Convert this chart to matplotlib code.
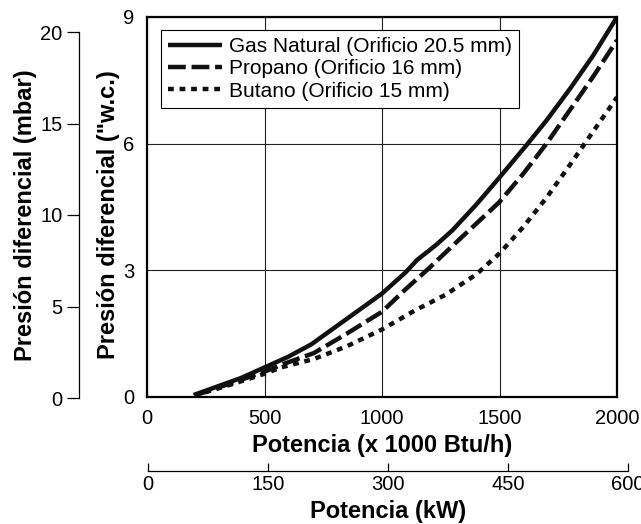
import matplotlib.pyplot as plt

plt.rcParams['font.family'] = ['Liberation Sans', 'DejaVu Sans']

# Potencia (x 1000 Btu/h) and pressure ("w.c.)
gas_x = [200, 300, 400, 500, 600, 700, 800, 900, 1000, 1100, 1150, 1230,
         1300, 1400, 1500, 1620, 1700, 1800, 1900, 2000]
gas_y = [0.05, 0.25, 0.45, 0.7, 0.95, 1.25, 1.65, 2.05, 2.45, 2.95, 3.25, 3.6,
         3.95, 4.55, 5.2, 6.0, 6.55, 7.3, 8.1, 9.0]

prop_x = [200, 360, 500, 570, 710, 850, 1000, 1100, 1200, 1300, 1400, 1500,
          1600, 1700, 1800, 1900, 2000]
prop_y = [0.03, 0.33, 0.6, 0.76, 1.04, 1.5, 2.02, 2.55, 3.05, 3.58, 4.1, 4.62,
          5.28, 6.0, 6.8, 7.6, 8.45]

but_x = [200, 360, 500, 570, 710, 850, 1000, 1140, 1270, 1400, 1500, 1600,
         1700, 1800, 1900, 2000]
but_y = [0.03, 0.3, 0.55, 0.7, 0.9, 1.2, 1.6, 2.05, 2.42, 2.9, 3.4, 4.02,
         4.72, 5.5, 6.3, 7.1]

x_ticks = [0, 500, 1000, 1500, 2000]
y_ticks = [0, 3, 6, 9]
mbar_ticks = [0, 5, 10, 15, 20]
kw_ticks = [0, 150, 300, 450, 600]

fig = plt.figure(figsize=(6.41, 5.24), dpi=100)
W, H = 641, 524

# main axes
ax = fig.add_axes([147 / W, 1 - 397 / H, (617 - 147) / W, (397 - 17) / H])
ax.plot(gas_x, gas_y, color='#111111', lw=3.2, solid_capstyle='butt',
        label='Gas Natural (Orificio 20.5 mm)')
ax.plot(prop_x, prop_y, color='#111111', lw=3.2, dashes=(4.0, 1.3),
        dash_capstyle='butt', label='Propano (Orificio 16 mm)')
ax.plot(but_x, but_y, color='#111111', lw=3.2, dashes=(1.3, 1.3),
        dash_capstyle='butt', label='Butano (Orificio 15 mm)')
ax.set_xlim(0, 2000)
ax.set_ylim(0, 9)
ax.set_xticks(x_ticks)
ax.set_yticks(y_ticks)
ax.grid(True, color='#222222', lw=0.8)
ax.tick_params(length=0, labelsize=14.5)
ax.tick_params(axis='x', pad=9)
ax.tick_params(axis='y', pad=9)
for s in ax.spines.values():
    s.set_linewidth(1.6)
ax.set_xlabel('Potencia (x 1000 Btu/h)', fontsize=17, fontweight='bold', labelpad=4)
ax.set_ylabel('Presión diferencial ("w.c.)', fontsize=17, fontweight='bold')
ax.yaxis.set_label_coords(-0.058, 0.48)
leg = ax.legend(loc='upper left', fontsize=15, frameon=True, fancybox=False,
                framealpha=1, edgecolor='black', handlelength=2.6,
                handletextpad=0.3, labelspacing=0.15, borderpad=0.35,
                borderaxespad=0, bbox_to_anchor=(14 / 470, 367 / 380))
leg.get_frame().set_linewidth(0.8)

# left mbar axis
ax2 = fig.add_axes([79 / W, 1 - 398 / H, 0.001, (398 - 32) / H])
ax2.set_ylim(0, 20)
ax2.set_yticks(mbar_ticks)
ax2.set_xticks([])
for k in ['top', 'right', 'bottom']:
    ax2.spines[k].set_visible(False)
ax2.spines['left'].set_linewidth(0.9)
ax2.patch.set_visible(False)
ax2.tick_params(axis='y', length=9, width=0.9, labelsize=14.5, pad=3)
ax2.set_ylabel('Presión diferencial (mbar)', fontsize=17, fontweight='bold', labelpad=2)

# bottom kW axis
ax3 = fig.add_axes([148 / W, 1 - 471 / H, (628 - 148) / W, 0.001])
ax3.set_xlim(0, 600)
ax3.set_xticks(kw_ticks)
ax3.set_yticks([])
for k in ['top', 'right', 'left']:
    ax3.spines[k].set_visible(False)
ax3.spines['bottom'].set_linewidth(0.9)
ax3.patch.set_visible(False)
ax3.tick_params(axis='x', direction='in', length=6, width=0.9, labelsize=14.5, pad=3)
ax3.set_xlabel('Potencia (kW)', fontsize=17, fontweight='bold', labelpad=4)

fig.savefig('out.png', dpi=100)
